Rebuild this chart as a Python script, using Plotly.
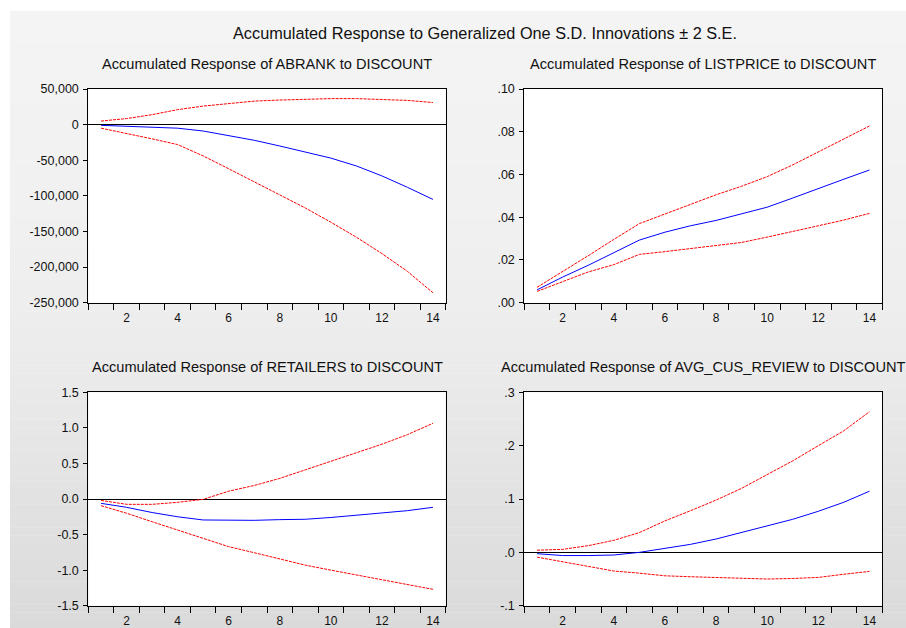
import plotly.graph_objects as go

W, H = 906, 628

# ---------------- data ----------------
periods = list(range(1, 15))

abrank_resp = [-1000, -2000, -3000, -5000, -9000, -15000, -22000, -30000, -38000, -47000, -58000, -72000, -88000, -105000]
abrank_hi = [5000, 8500, 14000, 21000, 26000, 29500, 33000, 34500, 36000, 36500, 36500, 35500, 34000, 31000]
abrank_lo = [-5000, -12000, -20000, -28000, -44000, -62000, -80000, -98000, -117000, -137000, -158000, -181000, -206000, -236000]

listprice_resp = [0.006, 0.012, 0.0175, 0.0235, 0.0293, 0.0330, 0.0360, 0.0385, 0.0415, 0.0447, 0.0490, 0.0535, 0.0578, 0.0621]
listprice_hi = [0.0072, 0.0145, 0.0220, 0.0296, 0.0370, 0.0415, 0.0460, 0.0505, 0.0545, 0.0590, 0.0645, 0.0705, 0.0765, 0.0827]
listprice_lo = [0.0053, 0.0100, 0.0144, 0.0178, 0.0226, 0.0239, 0.0253, 0.0268, 0.0282, 0.0307, 0.0335, 0.0360, 0.0387, 0.0418]

retailers_resp = [-0.061, -0.117, -0.19, -0.25, -0.295, -0.30, -0.30, -0.29, -0.285, -0.26, -0.225, -0.197, -0.164, -0.117]
retailers_hi = [-0.02, -0.075, -0.075, -0.047, -0.005, 0.11, 0.19, 0.29, 0.41, 0.525, 0.65, 0.77, 0.905, 1.064]
retailers_lo = [-0.094, -0.2, -0.32, -0.435, -0.55, -0.67, -0.755, -0.845, -0.93, -1.0, -1.07, -1.14, -1.2, -1.27]

review_resp = [-0.0025, -0.006, -0.006, -0.005, 0.0, 0.007, 0.015, 0.025, 0.037, 0.0495, 0.062, 0.077, 0.094, 0.1146]
review_hi = [0.004, 0.0056, 0.0125, 0.0225, 0.037, 0.059, 0.078, 0.098, 0.12, 0.1465, 0.1716, 0.2, 0.228, 0.2636]
review_lo = [-0.009, -0.018, -0.0257, -0.035, -0.039, -0.044, -0.0457, -0.0476, -0.0495, -0.050, -0.049, -0.047, -0.041, -0.0357]

x_tick_vals = [2, 4, 6, 8, 10, 12, 14]
x_tick_text = ["2", "4", "6", "8", "10", "12", "14"]

abrank_tick_vals = [50000, 0, -50000, -100000, -150000, -200000, -250000]
abrank_tick_text = ["50,000", "0", "-50,000", "-100,000", "-150,000", "-200,000", "-250,000"]
listprice_tick_vals = [0.10, 0.08, 0.06, 0.04, 0.02, 0.0]
listprice_tick_text = [".10", ".08", ".06", ".04", ".02", ".00"]
retailers_tick_vals = [1.5, 1.0, 0.5, 0.0, -0.5, -1.0, -1.5]
retailers_tick_text = ["1.5", "1.0", "0.5", "0.0", "-0.5", "-1.0", "-1.5"]
review_tick_vals = [0.3, 0.2, 0.1, 0.0, -0.1]
review_tick_text = [".3", ".2", ".1", ".0", "-.1"]

main_title = "Accumulated Response to Generalized One S.D. Innovations \u00b1 2 S.E."
panel_titles = [
    "Accumulated Response of ABRANK to DISCOUNT",
    "Accumulated Response of LISTPRICE to DISCOUNT",
    "Accumulated Response of RETAILERS to DISCOUNT",
    "Accumulated Response of AVG_CUS_REVIEW to DISCOUNT",
]

# ---------------- layout geometry (pixels) ----------------
FONT = "Liberation Sans, Arial, sans-serif"
boxes = [  # left, right, top, bottom in px
    (88.3, 445.7, 89.0, 302.7),
    (524.3, 882.3, 89.0, 302.7),
    (88.3, 445.7, 392.3, 605.7),
    (524.3, 882.3, 392.3, 605.7),
]
panels = [
    (abrank_resp, abrank_hi, abrank_lo, abrank_tick_vals, abrank_tick_text, [-250000, 50000]),
    (listprice_resp, listprice_hi, listprice_lo, listprice_tick_vals, listprice_tick_text, [0.0, 0.10]),
    (retailers_resp, retailers_hi, retailers_lo, retailers_tick_vals, retailers_tick_text, [-1.5, 1.5]),
    (review_resp, review_hi, review_lo, review_tick_vals, review_tick_text, [-0.1, 0.3]),
]

fig = go.Figure()
layout = dict(
    template="none",
    width=W, height=H, autosize=False,
    margin=dict(l=0, r=0, t=0, b=0, pad=0, autoexpand=False),
    paper_bgcolor="white",
    plot_bgcolor="white",
    showlegend=False,
    font=dict(family=FONT, size=12, color="black"),
)

shapes = []
# gradient background bands
gx0, gy0 = 10, 11
stops = [(11, 244), (200, 241), (300, 238), (400, 233), (500, 226), (628, 218)]


def gray_at(y):
    for (ya, ca), (yb, cb) in zip(stops[:-1], stops[1:]):
        if ya <= y <= yb:
            return ca + (cb - ca) * (y - ya) / (yb - ya)
    return stops[-1][1]


nb = 80
for k in range(nb):
    y0 = gy0 + (H - gy0) * k / nb
    y1 = gy0 + (H - gy0) * (k + 1) / nb
    c = int(round(gray_at((y0 + y1) / 2)))
    shapes.append(dict(type="rect", xref="paper", yref="paper", layer="below",
                       x0=gx0 / W, x1=1, y0=1 - y1 / H, y1=1 - y0 / H + 0.0005,
                       fillcolor=f"rgb({c},{c},{c})", line=dict(width=0)))
for (l, r, t, b) in boxes:
    shapes.append(dict(type="rect", xref="paper", yref="paper", layer="below",
                       x0=l / W, x1=r / W, y0=1 - b / H, y1=1 - t / H,
                       fillcolor="white", line=dict(width=0)))

annotations = [dict(text=main_title, x=485 / W, y=1 - 33 / H, xref="paper", yref="paper",
                    xanchor="center", yanchor="middle", showarrow=False,
                    font=dict(family=FONT, size=16.3, color="#111"))]

for i, ((l, r, t, b), (resp, hi, lo, tv, tt, yr)) in enumerate(zip(boxes, panels)):
    n = "" if i == 0 else str(i + 1)
    xa, ya = "x" + n, "y" + n
    layout["xaxis" + n] = dict(
        domain=[l / W, r / W], anchor=ya, range=[0.5, 14.5], automargin=False,
        showgrid=False, zeroline=False,
        showline=True, linecolor="black", linewidth=1, mirror=True,
        tickmode="array", tickvals=x_tick_vals, ticktext=x_tick_text, ticks="",
        ticklabelstandoff=4,
        tickfont=dict(family=FONT, size=12, color="#111"),
        minor=dict(tickmode="linear", tick0=0.5, dtick=1, ticks="outside",
                   ticklen=6, tickcolor="black", tickwidth=1, showgrid=False),
        fixedrange=True,
    )
    layout["yaxis" + n] = dict(
        domain=[1 - b / H, 1 - t / H], anchor=xa, range=yr, automargin=False,
        showgrid=False, zeroline=True, zerolinecolor="black", zerolinewidth=1,
        showline=True, linecolor="black", linewidth=1, mirror=True,
        tickmode="array", tickvals=tv, ticktext=tt, ticks="outside",
        ticklen=4, tickcolor="black", tickwidth=1,
        ticklabelstandoff=2,
        tickfont=dict(family=FONT, size=12.5, color="#111"),
        fixedrange=True,
    )
    fig.add_trace(go.Scatter(x=periods, y=hi, mode="lines", xaxis=xa, yaxis=ya,
                             line=dict(color="#ff0000", width=1, dash="3px,1px")))
    fig.add_trace(go.Scatter(x=periods, y=lo, mode="lines", xaxis=xa, yaxis=ya,
                             line=dict(color="#ff0000", width=1, dash="3px,1px")))
    fig.add_trace(go.Scatter(x=periods, y=resp, mode="lines", xaxis=xa, yaxis=ya,
                             line=dict(color="#0000ff", width=1)))
    ty = 64 if i < 2 else 367
    annotations.append(dict(text=panel_titles[i], x=(l + r) / 2 / W, y=1 - ty / H,
                            xref="paper", yref="paper", xanchor="center", yanchor="middle",
                            showarrow=False, font=dict(family=FONT, size=14.6, color="#111")))

layout["shapes"] = shapes
layout["annotations"] = annotations
fig.update_layout(**layout)
fig.write_html(
    "out.html",
    config={"displayModeBar": False, "responsive": False},
    post_script="document.body.style.margin='0';document.body.style.overflow='hidden';",
)
